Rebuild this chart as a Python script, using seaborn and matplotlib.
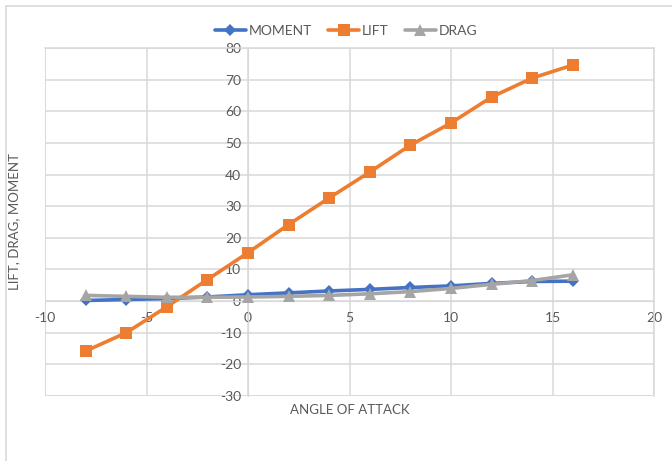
import numpy as np
import pandas as pd
import matplotlib
matplotlib.use("Agg")
import matplotlib.pyplot as plt
import seaborn as sns
from matplotlib.lines import Line2D

# Data
angle = [-8, -6, -4, -2, 0, 2, 4, 6, 8, 10, 12, 14, 16]
moment = [0.2, 0.5, 0.8, 1.3, 2.0, 2.6, 3.2, 3.7, 4.3, 4.8, 5.6, 6.2, 6.3]
lift = [-15.8, -10.0, -1.8, 6.8, 15.3, 24.2, 32.6, 40.8, 49.3, 56.3, 64.5, 70.5, 74.6]
drag = [1.8, 1.5, 1.2, 1.2, 1.3, 1.5, 1.8, 2.3, 3.0, 4.0, 5.3, 6.5, 8.3]

series = ["MOMENT", "LIFT", "DRAG"]
colors = {"MOMENT": "#4472C4", "LIFT": "#ED7D31", "DRAG": "#A5A5A5"}
markers = {"MOMENT": "D", "LIFT": "s", "DRAG": "^"}
msizes = {"MOMENT": 6, "LIFT": 8, "DRAG": 8}

df = pd.DataFrame({"angle": angle * 3,
                   "value": moment + lift + drag,
                   "series": np.repeat(series, len(angle))})

sns.set_style("white")
plt.rcParams['font.family'] = ['Lato', 'DejaVu Sans']
plt.rcParams['axes.unicode_minus'] = False
txt = "#595959"
grid = "#d9d9d9"

fig = plt.figure(figsize=(6.72, 4.61), dpi=100)
ax = fig.add_axes([45 / 672, 1 - 396 / 461, (654 - 45) / 672, (396 - 48) / 461])

for s in series:
    sub = df[df["series"] == s]
    sns.lineplot(data=sub, x="angle", y="value", ax=ax, color=colors[s],
                 marker=markers[s], markersize=msizes[s], markeredgewidth=0,
                 linewidth=2.6, legend=False, clip_on=False, zorder=3)

ax.set_xlim(-10, 20)
ax.set_ylim(-30, 80)
ax.set_xticks(range(-10, 21, 5))
ax.set_yticks(range(-30, 81, 10))
ax.grid(True, color=grid, linewidth=1.1)
ax.set_axisbelow(True)

for side in ["top", "right"]:
    ax.spines[side].set_color(grid)
    ax.spines[side].set_linewidth(1.1)
ax.spines["left"].set_position(("data", 0))
ax.spines["bottom"].set_position(("data", 0))
ax.spines["left"].set_color(grid)
ax.spines["bottom"].set_color(grid)
ax.axvline(-10, color=grid, lw=1.1, zorder=0)
ax.axhline(-30, color=grid, lw=1.1, zorder=0)
ax.tick_params(length=0, labelsize=10, labelcolor=txt)
ax.tick_params(axis="x", pad=8)
ax.tick_params(axis="y", pad=5)

ax.set_xlabel("")
ax.set_ylabel("")
fig.text(0.521, 1 - 410 / 461, "ANGLE OF ATTACK", ha="center", va="center",
         fontsize=9.5, color=txt)
fig.text(14 / 672, 1 - 222 / 461, "LIFT, DRAG, MOMENT", ha="center", va="center",
         rotation=90, fontsize=9.5, color=txt)

handles = [Line2D([], [], color=colors[s], marker=markers[s], markersize=msizes[s],
                  markeredgewidth=0, linewidth=2.6) for s in series]
fig.legend(handles, series, loc="center", bbox_to_anchor=(0.515, 1 - 31 / 461),
           ncol=3, frameon=False, fontsize=10, labelcolor=txt, handlelength=2.2,
           handletextpad=0.2, columnspacing=1.2)

# outer chart border (top and left visible)
fig.add_artist(Line2D([6 / 672, 1], [1 - 6 / 461, 1 - 6 / 461], color=grid, lw=1.2))
fig.add_artist(Line2D([6 / 672, 6 / 672], [0, 1 - 6 / 461], color=grid, lw=1.2))

fig.savefig("out.png", dpi=100)
